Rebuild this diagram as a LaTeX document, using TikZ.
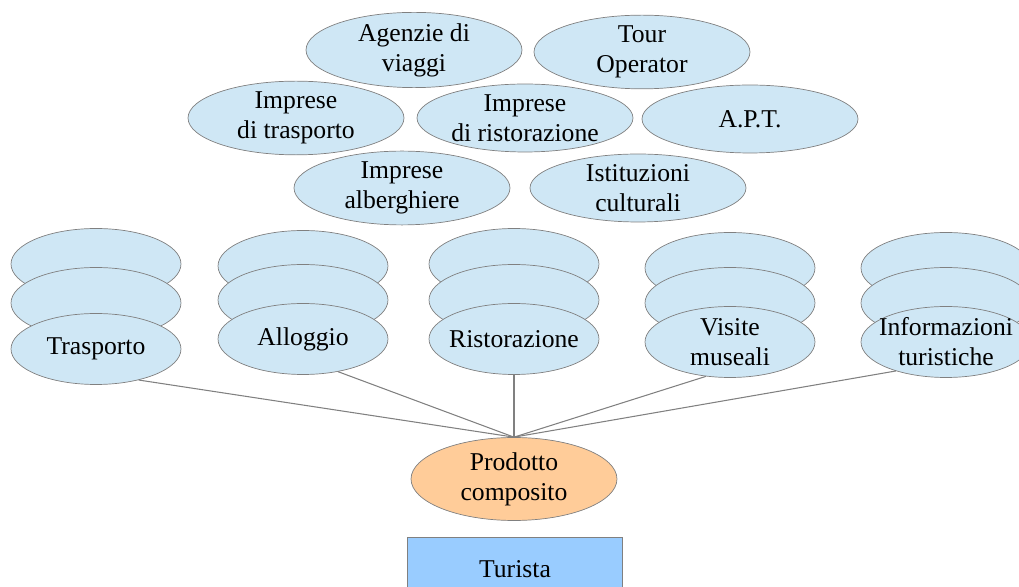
\documentclass[tikz,border=0pt]{standalone}
\usepackage{fontspec}
\setmainfont{Liberation Serif}
\usetikzlibrary{shapes.geometric}

\definecolor{paleblue}{HTML}{CFE7F5}
\definecolor{peach}{HTML}{FFCC99}
\definecolor{skyblue}{HTML}{99CCFF}
\definecolor{rimgray}{HTML}{808080}

% text that does not widen its ellipse
\newcommand{\slim}[1]{\makebox[0pt]{#1}}

\tikzset{
    actor node/.style={ellipse,draw=rimgray,fill=paleblue,inner sep=0,align=center,
        minimum width=4.32cm,minimum height=1.36cm,font=\fontsize{14.6}{17}\selectfont},
    offer node/.style={ellipse,draw=rimgray,fill=paleblue,inner sep=0,align=center,
        minimum width=3.4cm,minimum height=1.42cm,font=\fontsize{14.6}{17}\selectfont},
    product node/.style={ellipse,draw=rimgray,fill=peach,inner sep=0,align=center,
        minimum width=4.12cm,minimum height=1.66cm,font=\fontsize{14.6}{17}\selectfont},
    tourist node/.style={rectangle,draw=rimgray,fill=skyblue,inner sep=0,
        minimum width=4.3cm,minimum height=1.26cm,font=\fontsize{14.6}{17}\selectfont},
    link/.style={draw=rimgray,line width=0.6pt}
    }

\begin{document}
\begin{tikzpicture}[x=0.02cm,y=-0.02cm]
    \useasboundingbox (0,0) rectangle (1019,587);
    % The actors of the supply side
    \node(agenzie)[actor node] at (414,50) {Agenzie di\\viaggi};
    \node(tour)[actor node] at (642,52) {Tour\\Operator};
    \node(trasporti)[actor node] at (296,118) {Imprese\\di trasporto};
    \node(ristoranti)[actor node] at (525,118) {Imprese\\di ristorazione};
    \node(apt)[actor node] at (750,119) {A.P.T.};
    \node(alberghi)[actor node] at (402,188) {Imprese\\alberghiere};
    \node(istituzioni)[actor node] at (638,188) {Istituzioni\\culturali};
    % Stacks of services, back to front
    \node(trasA)[offer node] at (96,264) {};
    \node(trasB)[offer node] at (96,303) {};
    \node(trasC)[offer node] at (96,349) {Trasporto};
    \node(allA)[offer node] at (303,266) {};
    \node(allB)[offer node] at (303,300) {};
    \node(allC)[offer node] at (303,339) {Alloggio};
    \node(risA)[offer node] at (514,264) {};
    \node(risB)[offer node] at (514,300) {};
    \node(risC)[offer node] at (514,339) {\slim{Ristorazione}};
    \node(musA)[offer node] at (730,268) {};
    \node(musB)[offer node] at (730,303) {};
    \node(musC)[offer node] at (730,342) {Visite\\museali};
    \node(infA)[offer node] at (946,268) {};
    \node(infB)[offer node] at (946,303) {};
    \node(infC)[offer node] at (946,342) {\slim{Informazioni}\\\slim{turistiche}};
    % The composite product and the tourist
    \node(prodotto)[product node] at (514,479) {Prodotto\\composito};
    \node(turista)[tourist node] at (515,569) {Turista};
    \draw[link] (prodotto.north) -- (trasC.-36);
    \draw[link] (prodotto.north) -- (allC.-43);
    \draw[link] (prodotto.north) -- (risC.south);
    \draw[link] (prodotto.north) -- (musC.-125);
    \draw[link] (prodotto.north) -- (infC.-150);
\end{tikzpicture}
\end{document}
